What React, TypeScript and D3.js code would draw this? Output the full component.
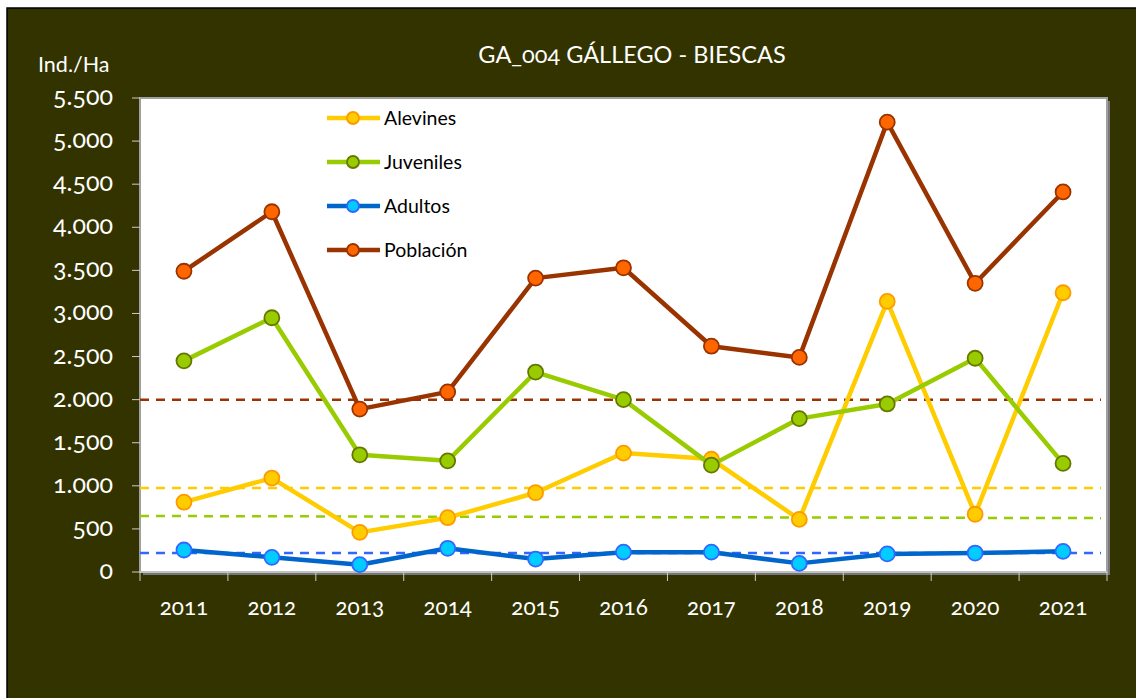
import React, { useEffect } from "react";
import * as d3 from "d3";

const years = ["2011", "2012", "2013", "2014", "2015", "2016", "2017", "2018", "2019", "2020", "2021"];
const alevines = [810, 1090, 460, 630, 920, 1380, 1310, 610, 3140, 670, 3240];
const juveniles = [2450, 2950, 1360, 1290, 2320, 2000, 1240, 1780, 1950, 2480, 1260];
const adultos = [255, 170, 85, 275, 150, 230, 230, 100, 210, 220, 240];
const poblacion = [3490, 4180, 1890, 2090, 3410, 3530, 2620, 2490, 5220, 3350, 4410];
// dashed reference lines: [value at left, value at right]
const refAlevines = [975, 975];
const refJuveniles = [650, 625];
const refAdultos = [220, 220];
const refPoblacion = [2000, 2000];
const yTicks = [0, 500, 1000, 1500, 2000, 2500, 3000, 3500, 4000, 4500, 5000, 5500];

const W = 1136;
const H = 698;
const font = "Lato, 'Open Sans', sans-serif";
const numStyle = { fontVariantNumeric: "oldstyle-nums" } as React.CSSProperties;

const series = [
  { name: "Alevines", values: alevines, ref: refAlevines, line: "#FFCC00", fill: "#FFCC00", stroke: "#FF9900", dash: "#FFCC00" },
  { name: "Juveniles", values: juveniles, ref: refJuveniles, line: "#99CC00", fill: "#99CC00", stroke: "#667700", dash: "#99CC00" },
  { name: "Adultos", values: adultos, ref: refAdultos, line: "#0066CC", fill: "#00CCFF", stroke: "#3366FF", dash: "#3366FF" },
  { name: "Población", values: poblacion, ref: refPoblacion, line: "#993300", fill: "#FF6600", stroke: "#993300", dash: "#993300" },
];

const fmt = (v: number) => d3.format(",")(v).replace(/,/g, ".");

export default function App() {
  useEffect(() => {
    document.body.style.margin = "0";
  }, []);

  const left = 140, right = 1107, top = 98, bottom = 572;
  const x = d3.scaleBand<string>().domain(years).range([left, right]);
  const y = d3.scaleLinear().domain([0, 5500]).range([bottom, top]);
  const cx = (yr: string) => (x(yr) ?? 0) + x.bandwidth() / 2;
  const line = d3
    .line<number>()
    .x((_, i) => cx(years[i]))
    .y((d) => y(d));

  const bounds = years.map((yr) => x(yr) ?? 0).concat([right]);

  return (
    <svg width={W} height={H} style={{ display: "block" }}>
      <rect x={0} y={0} width={W} height={H} fill="#fff" />
      <rect x={7} y={8} width={W} height={H} fill="#333300" stroke="#000" strokeWidth={1.5} />

      <text x={632} y={63} fill="#fff" fontFamily={font} fontSize={23.5} textAnchor="middle" style={numStyle}>
        GA_004 GÁLLEGO - BIESCAS
      </text>
      <text x={38} y={72} fill="#fff" fontFamily={font} fontSize={21.5}>
        Ind./Ha
      </text>

      {/* plot area */}
      <rect x={left + 3} y={top + 3} width={right - left} height={bottom - top} fill="#777" />
      <rect x={left} y={top} width={right - left} height={bottom - top} fill="#fff" stroke="#A0A0A0" strokeWidth={2} />

      {/* y axis */}
      {yTicks.map((t) => (
        <g key={t}>
          <line x1={left - 8} x2={left} y1={y(t)} y2={y(t)} stroke="#ccc" strokeWidth={1} />
          <text x={113} y={y(t) + 7} fill="#fff" fontFamily={font} fontSize={25} textAnchor="end" style={numStyle}>
            {fmt(t)}
          </text>
        </g>
      ))}

      {/* x axis */}
      <line x1={left} x2={right} y1={bottom} y2={bottom} stroke="#ccc" strokeWidth={1.5} />
      {bounds.map((b, i) => (
        <line key={i} x1={b} x2={b} y1={bottom} y2={bottom + 9} stroke="#ccc" strokeWidth={1} />
      ))}
      {years.map((yr) => (
        <text key={yr} x={cx(yr)} y={615} fill="#fff" fontFamily={font} fontSize={22.5} textAnchor="middle" style={numStyle}>
          {yr}
        </text>
      ))}

      {/* dashed reference lines */}
      {series.map((s) => (
        <line
          key={s.name + "ref"}
          x1={left}
          x2={right - 6}
          y1={y(s.ref[0])}
          y2={y(s.ref[1])}
          stroke={s.dash}
          strokeWidth={2.5}
          strokeDasharray="9 7"
        />
      ))}

      {/* series */}
      {series.map((s) => (
        <g key={s.name}>
          <path d={line(s.values) ?? ""} fill="none" stroke={s.line} strokeWidth={4.5} strokeLinejoin="round" />
          {s.values.map((v, i) => (
            <circle key={i} cx={cx(years[i])} cy={y(v)} r={7.5} fill={s.fill} stroke={s.stroke} strokeWidth={1.8} />
          ))}
        </g>
      ))}

      {/* legend */}
      {series.map((s, i) => {
        const ly = 118 + i * 44;
        return (
          <g key={s.name + "leg"}>
            <line x1={327} x2={380} y1={ly} y2={ly} stroke={s.line} strokeWidth={4.5} />
            <circle cx={353} cy={ly} r={6} fill={s.fill} stroke={s.stroke} strokeWidth={1.8} />
            <text x={384} y={ly + 7} fill="#000" fontFamily={font} fontSize={19.5}>
              {s.name}
            </text>
          </g>
        );
      })}
    </svg>
  );
}
